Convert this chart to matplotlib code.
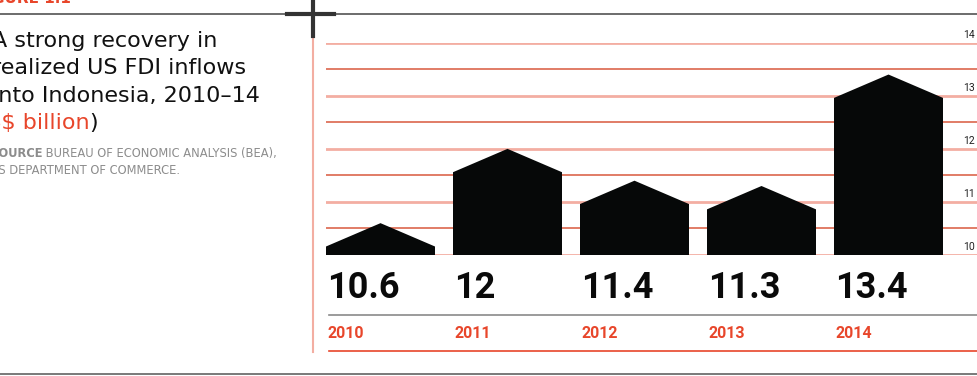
import matplotlib
matplotlib.use("Agg")
import matplotlib.pyplot as plt
import matplotlib.transforms as mtransforms
from matplotlib.lines import Line2D

years = ["2010", "2011", "2012", "2013", "2014"]
values = [10.6, 12.0, 11.4, 11.3, 13.4]
yticks = [10, 11, 12, 13, 14]

W, H = 977, 376
fig = plt.figure(figsize=(W / 100, H / 100), dpi=100)

def fx(x):
    return x / W

def fy(y):
    return 1 - y / H

RED = "#e8462b"
GRID_DARK = "#d9583d"
GRID_LIGHT = "#f3aea2"
NUM = ["Roboto", "DejaVu Sans"]
SANS = ["DejaVu Sans"]

# chart area
ax = fig.add_axes([fx(326), fy(255), fx(651), fy(42.7) - fy(255)])
ax.set_xlim(0, 651 / 127)
ax.set_ylim(10, 14)
ax.axis("off")

g = 10.0
while g <= 14.001:
    if g == int(g):
        ax.axhline(g, color=GRID_LIGHT, lw=2.0, zorder=1)
    else:
        ax.axhline(g, color=GRID_DARK, lw=1.1, zorder=1)
    g += 0.5

for t in yticks:
    ax.text(0.997, t + 0.06, str(t), transform=mtransforms.blended_transform_factory(ax.transAxes, ax.transData),
            ha="right", va="bottom", fontsize=7.5, family=NUM, color="#222")

bw = 109 / 127
trans = mtransforms.blended_transform_factory(ax.transData, fig.transFigure)
for i, v in enumerate(values):
    l, r, c = i, i + bw, i + bw / 2
    ax.fill([l, l, c, r, r], [10, v - 0.44, v, v - 0.44, 10], color="#060808", lw=0, zorder=3)
    lab = str(int(v)) if v == int(v) else str(v)
    fig.text(l + 0.005, fy(287.5), lab, transform=trans, ha="left", va="center",
             fontsize=26, fontweight="bold", family=NUM, color="#0a0a0a")
    fig.text(l + 0.015, fy(333), years[i], transform=trans, ha="left", va="center",
             fontsize=11.5, fontweight="bold", family=NUM, color=RED)

# rules
fig.add_artist(Line2D([fx(329), 1], [fy(315), fy(315)], color="#8a8a8a", lw=1.2))
fig.add_artist(Line2D([fx(329), 1], [fy(351), fy(351)], color=RED, lw=1.2))
fig.add_artist(Line2D([0, 1], [fy(14), fy(14)], color="#444444", lw=1.1))
fig.add_artist(Line2D([0, 1], [fy(374), fy(374)], color="#555555", lw=1.1))
fig.add_artist(Line2D([fx(313), fx(313)], [fy(36), fy(352)], color=GRID_LIGHT, lw=1.5))
# crosshair
fig.add_artist(Line2D([fx(313), fx(313)], [fy(0), fy(36)], color="#333333", lw=3))
fig.add_artist(Line2D([fx(287), fx(334)], [fy(14), fy(14)], color="#333333", lw=3))

# text panel
fig.text(fx(-24), fy(6), "FIGURE 1.1", ha="left", va="bottom", fontsize=11,
         fontweight="bold", family=SANS, color=RED)
title = ["A strong recovery in", "realized US FDI inflows", "into Indonesia, 2010\u201314"]
for k, line in enumerate(title):
    fig.text(fx(-8), fy(41 + 27.5 * k), line, ha="left", va="center", fontsize=16,
             family=SANS, color="#111111")

fig.canvas.draw()
r = fig.canvas.get_renderer()

def chain(prev, s, **kw):
    w = prev.get_window_extent(r).width
    tr = mtransforms.offset_copy(prev.get_transform(), fig=fig, x=w, units="dots")
    t = fig.text(prev.get_position()[0], prev.get_position()[1], s, transform=tr, **kw)
    fig.canvas.draw()
    return t

base = dict(ha="left", va="center", fontsize=16, family=SANS)
t1 = fig.text(fx(-38), fy(123.5), "(", color="#111111", **base)
t2 = chain(t1, "US$ billion", color=RED, **base)
t3 = chain(t2, ")", color="#111111", **base)

small = dict(ha="left", va="center", fontsize=8.3, family=SANS, color="#8c8c8c")
s1 = fig.text(fx(-10), fy(154), "SOURCE", fontweight="bold", **small)
chain(s1, " BUREAU OF ECONOMIC ANALYSIS (BEA),", **small)
fig.text(fx(-10), fy(171), "US DEPARTMENT OF COMMERCE.", **small)

fig.savefig("out.png", dpi=100)
